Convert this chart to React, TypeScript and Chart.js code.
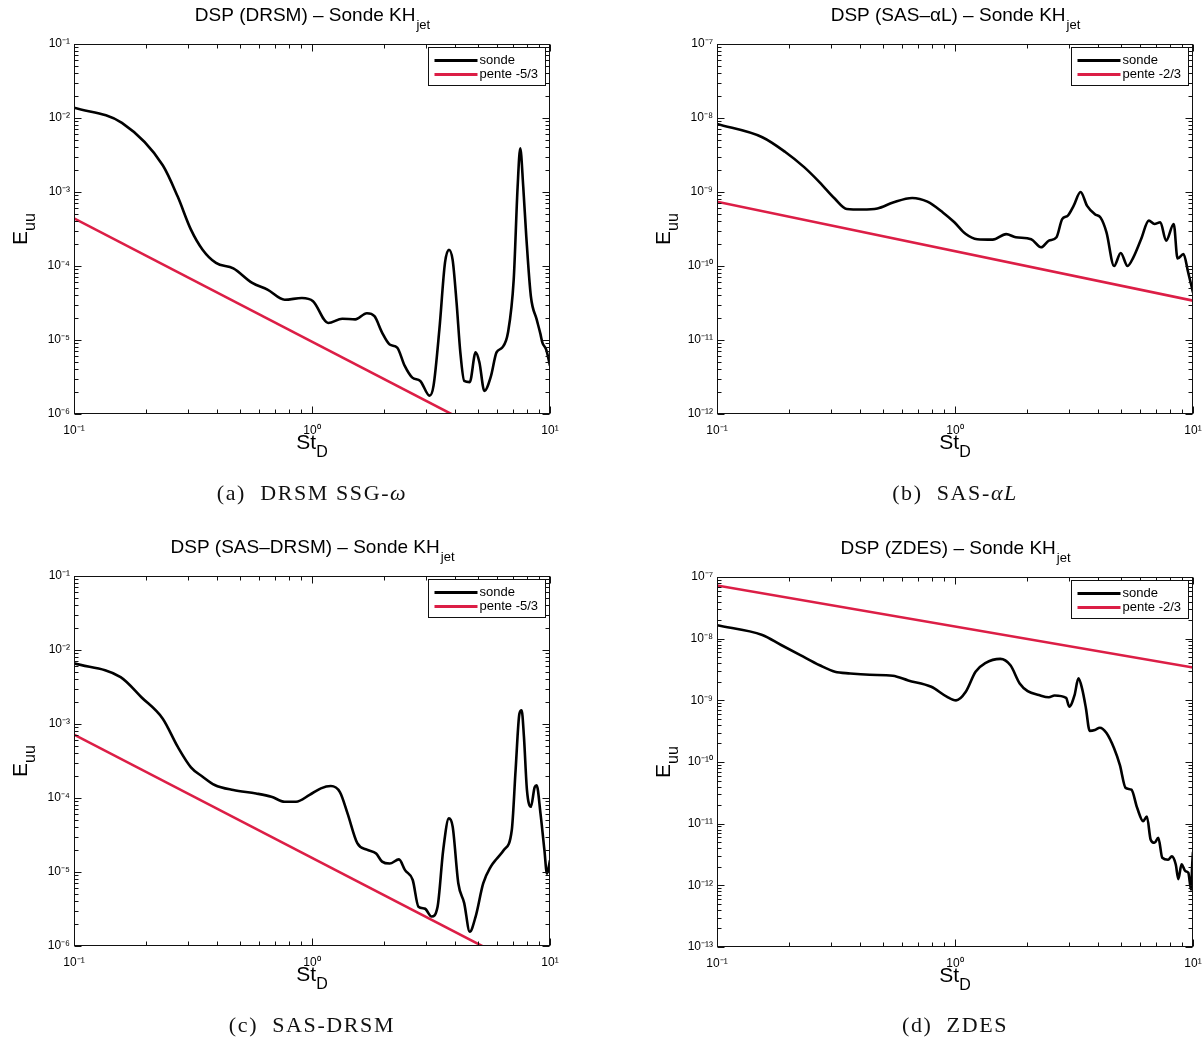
import React, { useEffect, useRef } from 'react';
import { Chart, registerables } from 'chart.js';

Chart.register(...registerables);

// ---------- data ----------
const xTicks = [0.1, 1, 10];
const yTicksA = [1e-6, 1e-5, 1e-4, 1e-3, 1e-2, 1e-1];
const yTicksB = [1e-12, 1e-11, 1e-10, 1e-9, 1e-8, 1e-7];
const yTicksC = [1e-6, 1e-5, 1e-4, 1e-3, 1e-2, 1e-1];
const yTicksD = [1e-13, 1e-12, 1e-11, 1e-10, 1e-9, 1e-8, 1e-7];

const slopeX = [0.1, 10];

// (a) DRSM SSG-omega
const stA = [0.1, 0.159, 0.236, 0.273, 0.31, 0.347, 0.395, 0.467, 0.561, 0.65, 0.768, 0.907, 1.01, 1.17, 1.34, 1.52, 1.7, 1.83, 1.97, 2.12, 2.28, 2.45, 2.64, 2.85, 3.12, 3.24, 3.43, 3.62, 3.76, 3.9, 4.05, 4.2, 4.36, 4.6, 4.87, 5.05, 5.3, 5.64, 5.96, 6.3, 6.66, 7.04, 7.31, 7.5, 7.72, 7.95, 8.31, 8.79, 9.12, 9.29, 9.64, 10];
const euuA = [1.38e-2, 8.6e-3, 2.3e-3, 8.6e-4, 3.1e-4, 1.66e-4, 1.1e-4, 9.3e-5, 5.9e-5, 4.8e-5, 3.5e-5, 3.7e-5, 3.35e-5, 1.7e-5, 1.94e-5, 1.9e-5, 2.3e-5, 2.1e-5, 1.26e-5, 8.7e-6, 7.9e-6, 4.5e-6, 3.1e-6, 2.8e-6, 1.77e-6, 2.4e-6, 1.4e-5, 1.1e-4, 1.66e-4, 1.2e-4, 3.2e-5, 6.8e-6, 2.8e-6, 2.7e-6, 6.8e-6, 5e-6, 2.05e-6, 3.2e-6, 6.8e-6, 7.9e-6, 1.26e-5, 6.6e-5, 1.17e-3, 3.9e-3, 1.17e-3, 2.5e-4, 3.9e-5, 1.9e-5, 1.2e-5, 9.2e-6, 7.4e-6, 4.5e-6];
const slopeA = [4.4e-4, 2.04e-7];

// (b) SAS-alphaL
const stB = [0.1, 0.155, 0.193, 0.233, 0.27, 0.313, 0.351, 0.407, 0.472, 0.549, 0.661, 0.766, 0.889, 0.994, 1.11, 1.24, 1.44, 1.64, 1.8, 2.09, 2.3, 2.48, 2.67, 2.82, 2.98, 3.15, 3.37, 3.59, 3.87, 4.09, 4.33, 4.66, 4.97, 5.31, 5.61, 6.05, 6.52, 6.89, 7.29, 7.71, 8.3, 8.61, 9.12, 9.55, 10];
const euuB = [8.3e-9, 5.5e-9, 3.5e-9, 2.15e-9, 1.35e-9, 8.1e-10, 5.9e-10, 5.8e-10, 6.0e-10, 7.2e-10, 8.3e-10, 7.4e-10, 5.3e-10, 3.9e-10, 2.7e-10, 2.3e-10, 2.27e-10, 2.7e-10, 2.45e-10, 2.3e-10, 1.79e-10, 2.2e-10, 2.45e-10, 4.3e-10, 4.8e-10, 6.5e-10, 1.0e-9, 6.5e-10, 5.0e-10, 4.5e-10, 2.85e-10, 1.0e-10, 1.5e-10, 1.0e-10, 1.3e-10, 2.3e-10, 4.1e-10, 3.7e-10, 3.9e-10, 2.2e-10, 3.7e-10, 1.26e-10, 1.45e-10, 8.1e-11, 4.4e-11];
const slopeB = [7.4e-10, 3.4e-11];

// (c) SAS-DRSM
const stC = [0.1, 0.157, 0.192, 0.236, 0.273, 0.31, 0.347, 0.39, 0.467, 0.582, 0.675, 0.768, 0.857, 0.977, 1.09, 1.2, 1.31, 1.41, 1.55, 1.7, 1.86, 1.97, 2.12, 2.32, 2.46, 2.65, 2.8, 2.98, 3.18, 3.37, 3.56, 3.76, 3.9, 4.12, 4.36, 4.6, 4.87, 5.24, 5.64, 5.96, 6.41, 6.91, 7.17, 7.44, 7.6, 7.77, 8.0, 8.31, 8.62, 8.79, 9.12, 9.47, 9.71, 10];
const euuC = [6.6e-3, 4.3e-3, 2.3e-3, 1.18e-3, 4.9e-4, 2.6e-4, 1.94e-4, 1.5e-4, 1.28e-4, 1.15e-4, 1.04e-4, 8.9e-5, 8.9e-5, 1.1e-4, 1.35e-4, 1.45e-4, 1.2e-4, 6.2e-5, 2.45e-5, 2.0e-5, 1.78e-5, 1.38e-5, 1.3e-5, 1.48e-5, 1.06e-5, 7.8e-6, 3.4e-6, 3.2e-6, 2.5e-6, 3.4e-6, 2.0e-5, 5.3e-5, 4.1e-5, 7.0e-6, 3.8e-6, 1.56e-6, 2.5e-6, 7.0e-6, 1.18e-5, 1.5e-5, 2.0e-5, 3.7e-5, 2.4e-4, 1.38e-3, 1.53e-3, 6.8e-4, 1.29e-4, 7.6e-5, 1.4e-4, 1.48e-4, 6.2e-5, 2.0e-5, 9.5e-6, 1.44e-5];
const slopeC = [7.2e-4, 3.35e-7];

// (d) ZDES
const stD = [0.1, 0.155, 0.186, 0.224, 0.27, 0.313, 0.363, 0.438, 0.548, 0.636, 0.795, 0.923, 1.01, 1.11, 1.22, 1.34, 1.55, 1.71, 1.87, 2.02, 2.25, 2.48, 2.62, 2.93, 3.02, 3.18, 3.3, 3.42, 3.55, 3.68, 3.87, 4.06, 4.33, 4.66, 4.93, 5.21, 5.51, 5.83, 6.17, 6.4, 6.64, 6.89, 7.15, 7.43, 7.86, 8.15, 8.46, 8.68, 8.95, 9.29, 9.56, 9.81, 9.94, 10];
const euuD = [1.65e-8, 1.15e-8, 7.9e-9, 5.4e-9, 3.7e-9, 2.9e-9, 2.73e-9, 2.6e-9, 2.5e-9, 2.1e-9, 1.66e-9, 1.15e-9, 1.0e-9, 1.38e-9, 2.9e-9, 4.0e-9, 4.7e-9, 3.7e-9, 1.88e-9, 1.41e-9, 1.22e-9, 1.12e-9, 1.2e-9, 1.1e-9, 7.9e-10, 1.22e-9, 2.27e-9, 1.55e-9, 7.4e-10, 3.2e-10, 3.3e-10, 3.6e-10, 2.95e-10, 1.67e-10, 8.9e-11, 3.8e-11, 3.55e-11, 1.79e-11, 1.1e-11, 1.31e-11, 5.5e-12, 4.9e-12, 5.9e-12, 2.8e-12, 2.6e-12, 2.95e-12, 2.2e-12, 1.26e-12, 2.2e-12, 1.7e-12, 1.6e-12, 8.5e-13, 2.46e-12, 3.5e-12];
const slopeD = [7.3e-8, 3.4e-9];

// ---------- styles / layout ----------
const FONT = "'Liberation Sans', Arial, Helvetica, sans-serif";
const RED = '#dc1e46';
const SUP: Record<string, string> = { '-': '⁻', '0': '⁰', '1': '¹', '2': '²', '3': '³', '4': '⁴', '5': '⁵', '6': '⁶', '7': '⁷', '8': '⁸', '9': '⁹' };
const pow10Label = (v: number) => {
  const e = Math.log10(v);
  const r = Math.round(e);
  if (Math.abs(e - r) > 1e-6) return '';
  return '10' + String(r).split('').map((c) => SUP[c] || c).join('');
};

type Panel = {
  key: string;
  left: number; top: number; width: number; height: number;
  area: { l: number; t: number; r: number; b: number };
  yTicks: number[];
  title: string;
  slopeLabel: string;
  sx: number[]; sy: number[]; ry: number[];
};

const panels: Panel[] = [
  { key: 'a', left: 0, top: 0, width: 601, height: 522, area: { l: 74, t: 44, r: 550, b: 414 }, yTicks: yTicksA, title: 'DSP (DRSM) – Sonde KH', slopeLabel: 'pente -5/3', sx: stA, sy: euuA, ry: slopeA },
  { key: 'b', left: 601, top: 0, width: 602, height: 522, area: { l: 116, t: 44, r: 592, b: 414 }, yTicks: yTicksB, title: 'DSP (SAS–αL) – Sonde KH', slopeLabel: 'pente -2/3', sx: stB, sy: euuB, ry: slopeB },
  { key: 'c', left: 0, top: 522, width: 601, height: 522, area: { l: 74, t: 54, r: 550, b: 424 }, yTicks: yTicksC, title: 'DSP (SAS–DRSM) – Sonde KH', slopeLabel: 'pente -5/3', sx: stC, sy: euuC, ry: slopeC },
  { key: 'd', left: 601, top: 522, width: 602, height: 522, area: { l: 116, t: 55, r: 592, b: 425 }, yTicks: yTicksD, title: 'DSP (ZDES) – Sonde KH', slopeLabel: 'pente -2/3', sx: stD, sy: euuD, ry: slopeD },
];

function makeDecor(p: Panel) {
  const seg = (ctx: CanvasRenderingContext2D, x1: number, y1: number, x2: number, y2: number) => {
    ctx.beginPath();
    ctx.moveTo(x1, y1);
    ctx.lineTo(x2, y2);
    ctx.stroke();
  };
  return {
    id: 'decor_' + p.key,
    afterDatasetsDraw(chart: any) {
      const { ctx, chartArea: a, scales } = chart;
      const xs = scales.x, ys = scales.y;
      ctx.save();
      ctx.strokeStyle = '#111';
      ctx.lineWidth = 1;
      const L = Math.round(a.left) + 0.5, R = Math.round(a.right) - 0.5;
      const T = Math.round(a.top) + 0.5, B = Math.round(a.bottom) - 0.5;
      ctx.strokeRect(L, T, R - L, B - T);
      const ex0 = Math.floor(Math.log10(xs.min) + 1e-9), ex1 = Math.ceil(Math.log10(xs.max) - 1e-9);
      for (let e = ex0; e <= ex1; e++) {
        for (let m = 1; m <= 9; m++) {
          const v = m * Math.pow(10, e);
          if (v < xs.min * 0.999 || v > xs.max * 1.001) continue;
          const px = Math.round(xs.getPixelForValue(v)) + 0.5;
          const len = m === 1 ? 7 : 4;
          seg(ctx, px, B, px, B - len);
          seg(ctx, px, T, px, T + len);
        }
      }
      const ey0 = Math.floor(Math.log10(ys.min) + 1e-9), ey1 = Math.ceil(Math.log10(ys.max) - 1e-9);
      for (let e = ey0; e <= ey1; e++) {
        for (let m = 1; m <= 9; m++) {
          const v = m * Math.pow(10, e);
          if (v < ys.min * 0.999 || v > ys.max * 1.001) continue;
          const py = Math.round(ys.getPixelForValue(v)) + 0.5;
          const len = m === 1 ? 7 : 4;
          seg(ctx, L, py, L + len, py);
          seg(ctx, R, py, R - len, py);
        }
      }
      ctx.restore();
    },
    afterDraw(chart: any) {
      const { ctx, chartArea: a } = chart;
      ctx.save();
      ctx.fillStyle = '#000';
      ctx.textAlign = 'left';
      ctx.textBaseline = 'alphabetic';
      const cx = (a.left + a.right) / 2;
      // title with subscript
      ctx.font = `19px ${FONT}`;
      const w1 = ctx.measureText(p.title).width;
      ctx.font = `13px ${FONT}`;
      const w2 = ctx.measureText('jet').width;
      const tx = cx - (w1 + w2) / 2;
      const ty = a.top - 23;
      ctx.font = `19px ${FONT}`;
      ctx.fillText(p.title, tx, ty);
      ctx.font = `13px ${FONT}`;
      ctx.fillText('jet', tx + w1 + 1, ty + 8);
      // x label St_D
      ctx.font = `21px ${FONT}`;
      const s1 = ctx.measureText('St').width;
      ctx.font = `16px ${FONT}`;
      const s2 = ctx.measureText('D').width;
      const lx = cx - (s1 + s2) / 2;
      const ly = a.bottom + 35;
      ctx.font = `21px ${FONT}`;
      ctx.fillText('St', lx, ly);
      ctx.font = `16px ${FONT}`;
      ctx.fillText('D', lx + s1, ly + 8);
      // y label E_uu
      ctx.save();
      ctx.translate(a.left - 47, (a.top + a.bottom) / 2);
      ctx.rotate(-Math.PI / 2);
      ctx.font = `21px ${FONT}`;
      const e1 = ctx.measureText('E').width;
      ctx.font = `16px ${FONT}`;
      const e2 = ctx.measureText('uu').width;
      const ex = -(e1 + e2) / 2;
      ctx.font = `21px ${FONT}`;
      ctx.fillText('E', ex, 0);
      ctx.font = `16px ${FONT}`;
      ctx.fillText('uu', ex + e1, 8);
      ctx.restore();
      // legend
      const bw = 117, bh = 38;
      const bx = Math.round(a.right - 5 - bw) + 0.5, by = Math.round(a.top + 3) + 0.5;
      ctx.fillStyle = '#fff';
      ctx.fillRect(bx, by, bw, bh);
      ctx.strokeStyle = '#111';
      ctx.lineWidth = 1;
      ctx.strokeRect(bx, by, bw, bh);
      ctx.lineWidth = 3;
      ctx.strokeStyle = '#000';
      seg(ctx, bx + 6, by + 13, bx + 49, by + 13);
      ctx.strokeStyle = RED;
      seg(ctx, bx + 6, by + 27, bx + 49, by + 27);
      ctx.fillStyle = '#000';
      ctx.font = `13px ${FONT}`;
      ctx.textBaseline = 'middle';
      ctx.fillText('sonde', bx + 51, by + 13);
      ctx.fillText(p.slopeLabel, bx + 51, by + 27);
      ctx.restore();
    },
  };
}

function PanelChart({ p }: { p: Panel }) {
  const ref = useRef<HTMLCanvasElement>(null);
  useEffect(() => {
    const canvas = ref.current;
    if (!canvas) return;
    const YW = 50, XH = 30;
    const yt = p.yTicks;
    const chart = new Chart(canvas, {
      type: 'scatter',
      data: {
        datasets: [
          {
            label: 'sonde',
            data: p.sx.map((x, i) => ({ x, y: p.sy[i] })),
            showLine: true,
            borderColor: '#000',
            backgroundColor: '#000',
            borderWidth: 2.6,
            pointRadius: 0,
            cubicInterpolationMode: 'monotone',
            borderJoinStyle: 'round',
            clip: 0,
          } as any,
          {
            label: p.slopeLabel,
            data: slopeX.map((x, i) => ({ x, y: p.ry[i] })),
            showLine: true,
            borderColor: RED,
            backgroundColor: RED,
            borderWidth: 2.6,
            pointRadius: 0,
            clip: 0,
          } as any,
        ],
      },
      options: {
        responsive: false,
        animation: false,
        events: [],
        layout: {
          padding: {
            left: p.area.l - YW,
            right: p.width - p.area.r,
            top: p.area.t,
            bottom: p.height - p.area.b - XH,
          },
        },
        plugins: { legend: { display: false }, tooltip: { enabled: false }, title: { display: false } },
        scales: {
          x: {
            type: 'logarithmic',
            min: xTicks[0],
            max: xTicks[xTicks.length - 1],
            afterBuildTicks: (s: any) => { s.ticks = xTicks.map((v) => ({ value: v })); },
            afterFit: (s: any) => { s.height = XH; s.paddingLeft = 0; s.paddingRight = 0; },
            grid: { display: false, drawTicks: false },
            border: { display: false },
            ticks: {
              callback: (v: any) => pow10Label(Number(v)),
              font: { family: FONT, size: 12 },
              color: '#000',
              padding: 9,
              autoSkip: false,
              maxRotation: 0,
            },
          },
          y: {
            type: 'logarithmic',
            min: yt[0],
            max: yt[yt.length - 1],
            afterBuildTicks: (s: any) => { s.ticks = yt.map((v) => ({ value: v })); },
            afterFit: (s: any) => { s.width = YW; s.paddingTop = 0; s.paddingBottom = 0; },
            grid: { display: false, drawTicks: false },
            border: { display: false },
            ticks: {
              callback: (v: any) => pow10Label(Number(v)),
              font: { family: FONT, size: 12 },
              color: '#000',
              padding: 4,
              autoSkip: false,
            },
          },
        },
      } as any,
      plugins: [makeDecor(p) as any],
    });
    return () => chart.destroy();
  }, [p]);
  return (
    <canvas
      ref={ref}
      width={p.width}
      height={p.height}
      style={{ position: 'absolute', left: p.left, top: p.top, width: p.width, height: p.height }}
    />
  );
}

const captionStyle = (cx: number, cy: number): React.CSSProperties => ({
  position: 'absolute',
  left: cx - 250,
  top: cy - 13,
  width: 500,
  height: 26,
  lineHeight: '26px',
  textAlign: 'center',
  fontFamily: "'Liberation Serif', 'DejaVu Serif', serif",
  fontSize: 22,
  color: '#111',
  letterSpacing: 1.6,
  whiteSpace: 'nowrap',
});

export default function App() {
  return (
    <div style={{ position: 'absolute', left: 0, top: 0, width: 1203, height: 1044, background: '#fff', overflow: 'hidden' }}>
      {panels.map((p) => (
        <PanelChart key={p.key} p={p} />
      ))}
      <div style={captionStyle(312, 493)}>(a)&nbsp; DRSM SSG-<i>ω</i></div>
      <div style={captionStyle(955, 493)}>(b)&nbsp; SAS-<i>αL</i></div>
      <div style={captionStyle(312, 1025)}>(c)&nbsp; SAS-DRSM</div>
      <div style={captionStyle(955, 1025)}>(d)&nbsp; ZDES</div>
    </div>
  );
}
